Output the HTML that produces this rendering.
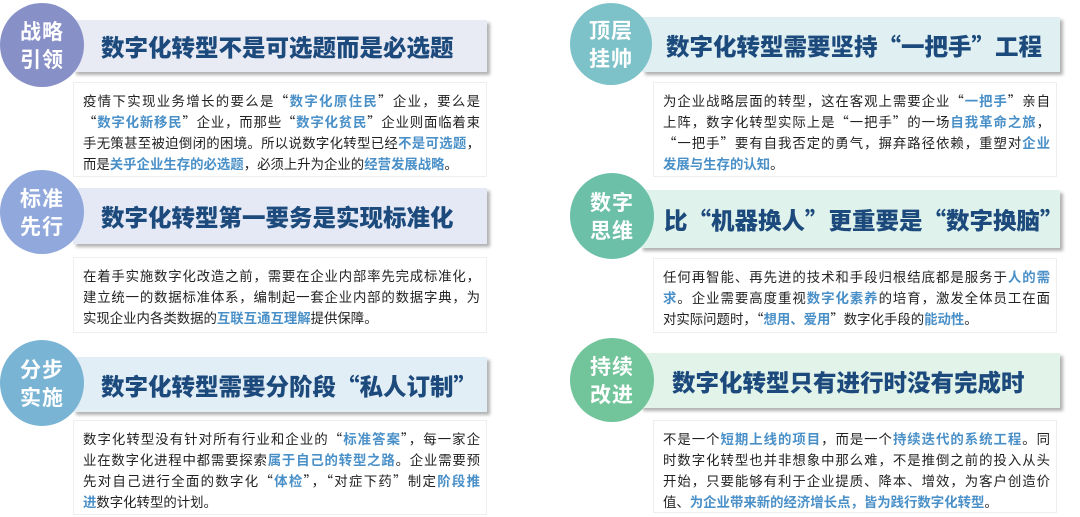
<!DOCTYPE html>
<html><head><meta charset="utf-8"><style>
*{margin:0;padding:0;box-sizing:border-box}
body{width:1080px;height:517px;background:#fff;position:relative;overflow:hidden;font-family:"Noto Sans CJK SC","Liberation Sans",sans-serif}
.c{position:absolute;border-radius:50%;color:#fff;font-weight:bold;font-size:21px;line-height:28px;text-align:center;display:flex;align-items:center;justify-content:center;z-index:2;letter-spacing:1px}
.h{position:absolute;box-shadow:3px 3px 3px rgba(0,0,0,.3);color:#1d4a7c;font-weight:900;font-size:23.5px;display:flex;align-items:center;z-index:1;white-space:nowrap}
.b{position:absolute;border:1px solid #eee;background:#fff;font-size:13.4px;line-height:21px;color:#222;padding:7px 6px 0 9px}
.b div{text-align:justify;text-align-last:justify;white-space:nowrap;overflow:visible}
.b div.l{text-align-last:left}
.b b{color:#4a90c8}
</style></head><body>
<div class="c" style="left:0;top:3px;width:84px;height:84px;background:#8890c8">战略<br>引领</div>
<div class="h" style="left:73px;top:20px;width:414px;height:52px;background:#e8eaf4;padding-left:28px">数字化转型不是可选题而是必选题</div>
<div class="b" style="left:73px;top:82px;width:414px;height:95px">
<div>疫情下实现业务增长的要么是“<b>数字化原住民</b>”企业，要么是</div>
<div>“<b>数字化新移民</b>”企业，而那些“<b>数字化贫民</b>”企业则面临着束</div>
<div>手无策甚至被迫倒闭的困境。所以说数字化转型已经<b>不是可选题</b>，</div>
<div class="l">而是<b>关乎企业生存的必选题</b>，必须上升为企业的<b>经营发展战略</b>。</div></div>

<div class="c" style="left:0;top:170px;width:84px;height:84px;background:#90a8dc">标准<br>先行</div>
<div class="h" style="left:73px;top:188px;width:414px;height:56px;background:#e4e9f5;padding-left:28px">数字化转型第一要务是实现标准化</div>
<div class="b" style="left:73px;top:257px;width:414px;height:76px">
<div>在着手实施数字化改造之前，需要在企业内部率先完成标准化，</div>
<div>建立统一的数据标准体系，编制起一套企业内部的数据字典，为</div>
<div class="l">实现企业内各类数据的<b>互联互通互理解</b>提供保障。</div></div>

<div class="c" style="left:0;top:340px;width:84px;height:86px;background:#7ab4d4">分步<br>实施</div>
<div class="h" style="left:73px;top:357px;width:414px;height:55px;background:#e2eef6;padding-left:28px">数字化转型需要分阶段“私人订制”</div>
<div class="b" style="left:73px;top:420px;width:414px;height:95px">
<div>数字化转型没有针对所有行业和企业的“<b>标准答案</b>”，每一家企</div>
<div>业在数字化进程中都需要探索<b>属于自己的转型之路</b>。企业需要预</div>
<div>先对自己进行全面的数字化“<b>体检</b>”，“对症下药”制定<b>阶段推</b></div>
<div class="l"><b>进</b>数字化转型的计划。</div></div>

<div class="c" style="left:570px;top:3px;width:82px;height:82px;background:#7cc2c8">顶层<br>挂帅</div>
<div class="h" style="left:642px;top:17px;width:418px;height:55px;background:#e0f0f2;padding-left:24px">数字化转型需要坚持“一把手”工程</div>
<div class="b" style="left:653px;top:82px;width:404px;height:95px">
<div>为企业战略层面的转型，这在客观上需要企业“<b>一把手</b>”亲自</div>
<div>上阵，数字化转型实际上是“一把手”的一场<b>自我革命之旅</b>，</div>
<div>“一把手”要有自我否定的勇气，摒弃路径依赖，重塑对<b>企业</b></div>
<div class="l"><b>发展与生存的认知</b>。</div></div>

<div class="c" style="left:570px;top:173px;width:84px;height:86px;background:#6cc0a8">数字<br>思维</div>
<div class="h" style="left:640px;top:190px;width:420px;height:58px;background:#e0f2ec;padding-left:24px">比“机器换人”更重要是“数字换脑”</div>
<div class="b" style="left:653px;top:258px;width:404px;height:75px">
<div>任何再智能、再先进的技术和手段归根结底都是服务于<b>人的需</b></div>
<div><b>求</b>。企业需要高度重视<b>数字化素养</b>的培育，激发全体员工在面</div>
<div class="l">对实际问题时，“<b>想用、爱用</b>”数字化手段的<b>能动性</b>。</div></div>

<div class="c" style="left:570px;top:338px;width:84px;height:84px;background:#72c49a">持续<br>改进</div>
<div class="h" style="left:640px;top:353px;width:420px;height:55px;background:#e2f3ea;padding-left:32px">数字化转型只有进行时没有完成时</div>
<div class="b" style="left:653px;top:420px;width:404px;height:93px">
<div>不是一个<b>短期上线的项目</b>，而是一个<b>持续迭代的系统工程</b>。同</div>
<div>时数字化转型也并非想象中那么难，不是推倒之前的投入从头</div>
<div>开始，只要能够有利于企业提质、降本、增效，为客户创造价</div>
<div class="l">值、<b>为企业带来新的经济增长点，皆为践行数字化转型</b>。</div></div>
</body></html>
